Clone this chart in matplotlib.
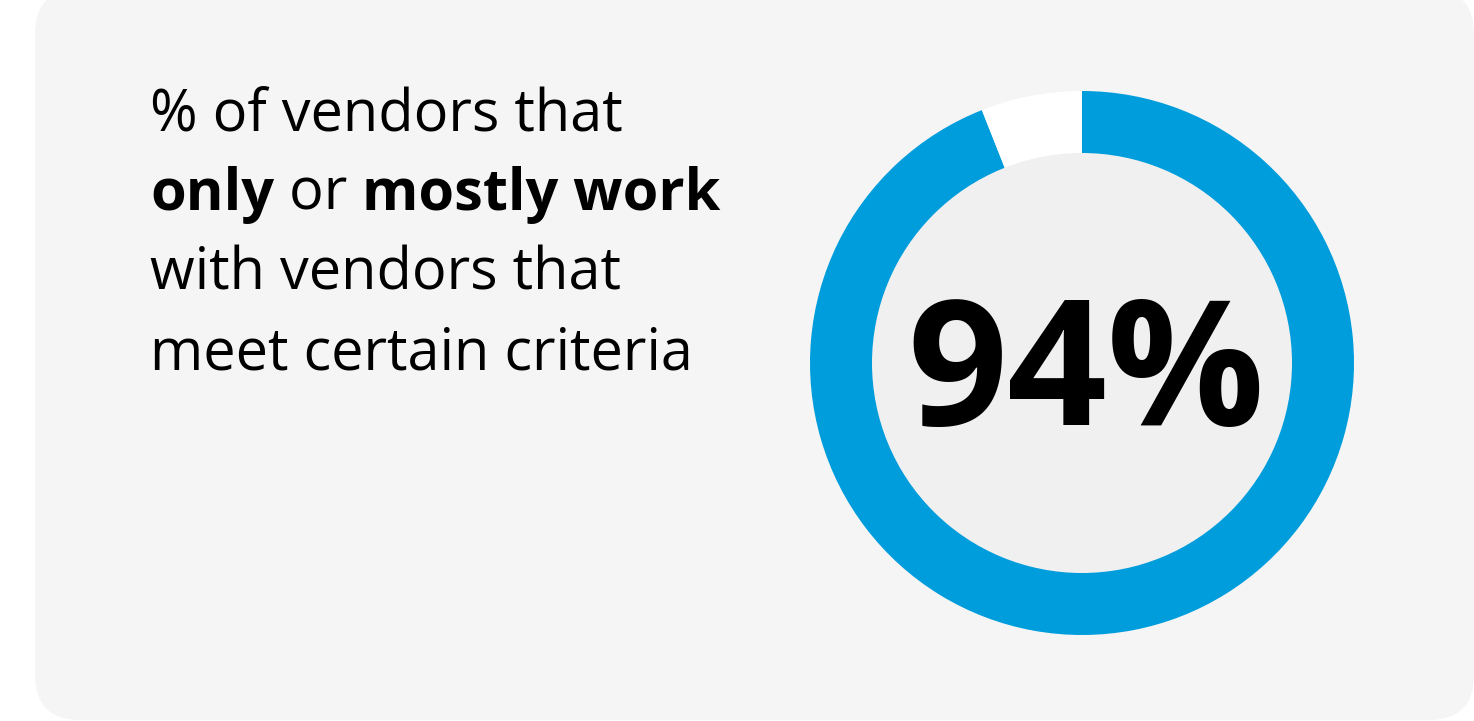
import matplotlib.pyplot as plt
from matplotlib.patches import FancyBboxPatch, Circle

# data
values = [94, 6]
colors = ['#009ddc', '#ffffff']
big_label = '94%'
line1 = '% of vendors that'
line2 = [('only', 'bold'), (' or ', 'normal'), ('mostly work', 'bold')]
line3 = 'with vendors that'
line4 = 'meet certain criteria'

W, H = 1474, 721
fig = plt.figure(figsize=(W / 100, H / 100), dpi=100)
ax = fig.add_axes([0, 0, 1, 1])
fig.patch.set_facecolor('white')

# grey card
card = FancyBboxPatch((35, 1), W - 35, H + 10, boxstyle='round,pad=0,rounding_size=45',
                      facecolor='#f5f5f5', edgecolor='none', zorder=0)
ax.add_patch(card)

# donut
cx, cy = 1082, H - 363
ax.pie(values, colors=colors, startangle=90, counterclock=False,
       center=(cx, cy), radius=272, frame=True,
       wedgeprops=dict(width=272, edgecolor='none'))
ax.add_patch(Circle((cx, cy), 210, facecolor='#f0f0f0', edgecolor='none', zorder=3))
ax.set_xlim(0, W)
ax.set_ylim(0, H)
ax.set_aspect('auto')
ax.axis('off')

fam = 'Open Sans'
ax.text(1086, H - 425, big_label, fontsize=126, fontweight='bold', family=fam,
        ha='center', va='baseline', color='black', zorder=4)

fs = 41.5
x0 = 150
ax.text(x0, H - 131, line1, fontsize=fs, family=fam, va='baseline', color='black')
ax.text(x0, H - 290, line3, fontsize=fs, family=fam, va='baseline', color='black')
ax.text(x0, H - 370, line4, fontsize=fs, family=fam, va='baseline', color='black')

# second line with mixed weights
r = fig.canvas.get_renderer()
x = x0
for part, wt in line2:
    t = ax.text(x, H - 210, part, fontsize=fs, family=fam, fontweight=wt,
                va='baseline', color='black')
    x += t.get_window_extent(renderer=r).width

fig.savefig('out.png', dpi=100, facecolor='white')
